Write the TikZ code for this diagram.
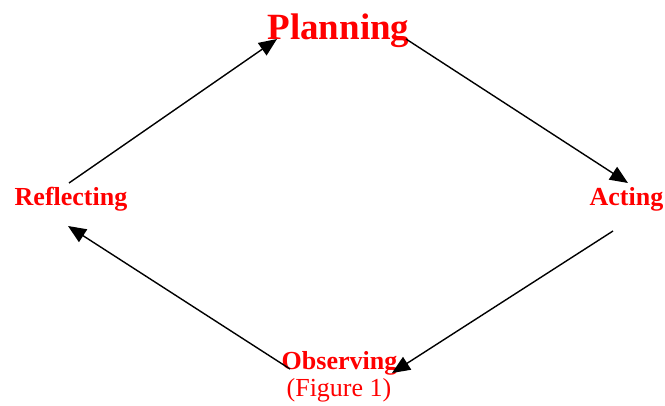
\documentclass[tikz,border=0pt]{standalone}
\usepackage{fontspec}
\setmainfont{Liberation Serif}
\usetikzlibrary{arrows.meta}
\definecolor{lblred}{RGB}{255,0,0}
\begin{document}
\begin{tikzpicture}[x=1pt,y=-1pt,
  lbl/.style={text=lblred,font=\bfseries\fontsize{26}{28}\selectfont,anchor=base,inner sep=0pt},
  conn/.style={line width=1.4pt,-{Triangle[length=18pt,width=15pt]}}]
\useasboundingbox (0,0) rectangle (665,406);
\node[lbl,font=\bfseries\fontsize{37}{40}\selectfont] (plan) at (338.5,40) {Planning};
\node[lbl] (act) at (626.5,206) {Acting};
\node[lbl] (refl) at (71,206) {Reflecting};
\node[lbl] (obs) at (339.5,370) {Observing};
\node[lbl,font=\fontsize{26}{28}\selectfont] (fig) at (339,397) {(Figure 1)};
\coordinate (p1) at (406,39);
\coordinate (a1) at (628,183);
\coordinate (a2) at (613,231);
\coordinate (o1) at (392,373);
\coordinate (o2) at (290,369);
\coordinate (r1) at (68,226);
\coordinate (r2) at (69,183);
\coordinate (p2) at (277,39);
\draw[conn] (p1) -- (a1);
\draw[conn] (a2) -- (o1);
\draw[conn] (o2) -- (r1);
\draw[conn] (r2) -- (p2);
\end{tikzpicture}
\end{document}
